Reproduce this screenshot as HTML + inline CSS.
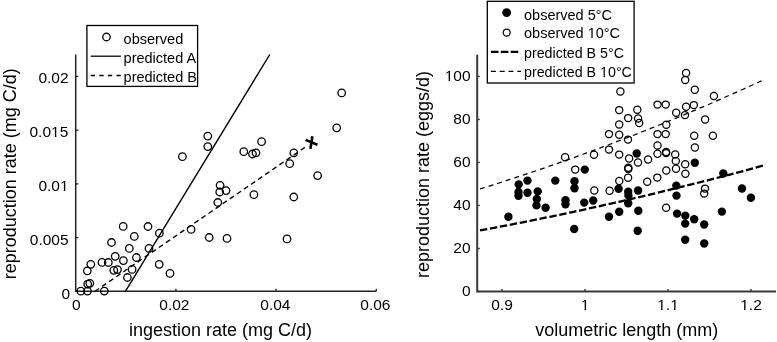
<!DOCTYPE html>
<html><head><meta charset="utf-8"><style>
html,body{margin:0;padding:0;background:#fff;}
body{width:777px;height:342px;overflow:hidden;}
svg{display:block;will-change:transform;}
text{font-family:"Liberation Sans",sans-serif;fill:#000;}
</style></head><body>
<svg width="777" height="342" viewBox="0 0 777 342">
<rect width="777" height="342" fill="#fff"/>
<g id="left">
<path d="M75.7,54.5 V291.3 H376.3" fill="none" stroke="#222" stroke-width="1.5"/>
<path d="M75.7,291.3 h2.6" stroke="#222" stroke-width="1.3"/>
<path d="M75.7,237.6 h2.6" stroke="#222" stroke-width="1.3"/>
<path d="M75.7,183.9 h2.6" stroke="#222" stroke-width="1.3"/>
<path d="M75.7,130.2 h2.6" stroke="#222" stroke-width="1.3"/>
<path d="M75.7,76.4 h2.6" stroke="#222" stroke-width="1.3"/>
<path d="M175.9,291.3 v-2.6" stroke="#222" stroke-width="1.3"/>
<path d="M276.1,291.3 v-2.6" stroke="#222" stroke-width="1.3"/>
<path d="M376.3,291.3 v-2.6" stroke="#222" stroke-width="1.3"/>
<g font-size="15.5" text-anchor="end">
<text x="68.6" y="83.2">0.02</text>
<text x="68.3" y="137.3">0.015</text>
<text x="68.6" y="191">0.01</text>
<text x="68.6" y="244.8">0.005</text>
<text x="70.2" y="298.6">0</text>
</g><g font-size="15.5" text-anchor="middle">
<text x="76.4" y="310.3">0</text>
<text x="174.4" y="310.3">0.02</text>
<text x="275.4" y="310.3">0.04</text>
<text x="375.4" y="310.3">0.06</text>
</g>
<text x="129" y="335.7" font-size="18">ingestion rate (mg C/d)</text>
<text transform="translate(15.8,279.3) rotate(-90)" font-size="18">reproduction rate (mg C/d)</text>
<path d="M125.4,291.3 L269.8,54.5" stroke="#000" stroke-width="1.4" fill="none"/>
<path d="M95,291.3 L307.6,145.55" stroke="#000" stroke-width="1.4" fill="none" stroke-dasharray="5 3.6"/>
<g fill="none" stroke="#000" stroke-width="1.3">
<circle cx="341.7" cy="92.9" r="3.75"/>
<circle cx="336.7" cy="127.8" r="3.75"/>
<circle cx="207.8" cy="136.1" r="3.75"/>
<circle cx="207.8" cy="146.6" r="3.75"/>
<circle cx="182.4" cy="156.7" r="3.75"/>
<circle cx="261.6" cy="141.7" r="3.75"/>
<circle cx="243.8" cy="151.7" r="3.75"/>
<circle cx="252.5" cy="154" r="3.75"/>
<circle cx="256" cy="152.8" r="3.75"/>
<circle cx="293.8" cy="152.8" r="3.75"/>
<circle cx="289.7" cy="163.7" r="3.75"/>
<circle cx="317.6" cy="175.6" r="3.75"/>
<circle cx="220.1" cy="185.3" r="3.75"/>
<circle cx="219.7" cy="192" r="3.75"/>
<circle cx="226" cy="190.6" r="3.75"/>
<circle cx="217.8" cy="202.5" r="3.75"/>
<circle cx="253.9" cy="194.7" r="3.75"/>
<circle cx="293.8" cy="197" r="3.75"/>
<circle cx="191.1" cy="229.4" r="3.75"/>
<circle cx="209.2" cy="237.5" r="3.75"/>
<circle cx="227" cy="238.4" r="3.75"/>
<circle cx="287" cy="238.9" r="3.75"/>
<circle cx="123.2" cy="226.4" r="3.75"/>
<circle cx="148" cy="226.5" r="3.75"/>
<circle cx="134.3" cy="236.4" r="3.75"/>
<circle cx="159.4" cy="233.2" r="3.75"/>
<circle cx="111.5" cy="242.5" r="3.75"/>
<circle cx="129.3" cy="248.4" r="3.75"/>
<circle cx="149" cy="248.4" r="3.75"/>
<circle cx="115.2" cy="256.3" r="3.75"/>
<circle cx="136.4" cy="257.5" r="3.75"/>
<circle cx="123.4" cy="260.6" r="3.75"/>
<circle cx="102" cy="262.4" r="3.75"/>
<circle cx="108.3" cy="262.5" r="3.75"/>
<circle cx="90.8" cy="264.3" r="3.75"/>
<circle cx="87.3" cy="270.8" r="3.75"/>
<circle cx="117.5" cy="269.6" r="3.75"/>
<circle cx="113.8" cy="270.3" r="3.75"/>
<circle cx="132.1" cy="269.4" r="3.75"/>
<circle cx="127.4" cy="277.5" r="3.75"/>
<circle cx="159.2" cy="264.3" r="3.75"/>
<circle cx="170" cy="273.4" r="3.75"/>
<circle cx="87.7" cy="284.1" r="3.75"/>
<circle cx="89.8" cy="283.3" r="3.75"/>
<circle cx="80.8" cy="291.2" r="3.75"/>
<circle cx="87.5" cy="291.1" r="3.75"/>
<circle cx="104.3" cy="291.1" r="3.75"/>
</g>
<path d="M305.6,139.9 L317.5,144.8 M312.4,136.3 L310.4,148.9" stroke="#000" stroke-width="2.6" fill="none"/>
<rect x="86.9" y="25.5" width="110.7" height="60.9" fill="#fff" stroke="#000" stroke-width="1.3"/>
<circle cx="106.5" cy="37" r="3.75" fill="none" stroke="#000" stroke-width="1.3"/>
<path d="M90.7,56.2 H120.9" stroke="#000" stroke-width="1.3"/>
<path d="M90.7,75.5 H120.9" stroke="#000" stroke-width="1.3" stroke-dasharray="4.3 4.3"/>
<g font-size="14.5">
<text x="123.6" y="44">observed</text>
<text x="123.6" y="63.1">predicted A</text>
<text x="123.6" y="82.1">predicted B</text>
</g>
</g>
<g id="right">
<path d="M477.2,54.7 V291.6 H776" fill="none" stroke="#3a3a3a" stroke-width="2"/>
<path d="M477.2,291.5 h2.6" stroke="#3a3a3a" stroke-width="1.4"/>
<path d="M477.2,248.48 h2.6" stroke="#3a3a3a" stroke-width="1.4"/>
<path d="M477.2,205.46 h2.6" stroke="#3a3a3a" stroke-width="1.4"/>
<path d="M477.2,162.44 h2.6" stroke="#3a3a3a" stroke-width="1.4"/>
<path d="M477.2,119.42 h2.6" stroke="#3a3a3a" stroke-width="1.4"/>
<path d="M477.2,76.4 h2.6" stroke="#3a3a3a" stroke-width="1.4"/>
<path d="M502,291.6 v-2.6" stroke="#3a3a3a" stroke-width="1.4"/>
<path d="M585,291.6 v-2.6" stroke="#3a3a3a" stroke-width="1.4"/>
<path d="M668,291.6 v-2.6" stroke="#3a3a3a" stroke-width="1.4"/>
<path d="M751,291.6 v-2.6" stroke="#3a3a3a" stroke-width="1.4"/>
<g font-size="15.5" text-anchor="end">
<text x="470.6" y="296.1">0</text>
<text x="470.6" y="253.08">20</text>
<text x="470.6" y="210.06">40</text>
<text x="470.6" y="167.04">60</text>
<text x="470.6" y="124.02">80</text>
<text x="470.6" y="81">100</text>
</g><g font-size="15.5" text-anchor="middle">
<text x="502" y="310.1">0.9</text>
<text x="585" y="310.1">1</text>
<text x="668" y="310.1">1.1</text>
<text x="751" y="310.1">1.2</text>
</g>
<text x="535.2" y="335.5" font-size="18">volumetric length (mm)</text>
<text transform="translate(429.1,278.1) rotate(-90)" font-size="18">reproduction rate (eggs/d)</text>
<polyline points="480.01,188.97 487.12,186.75 494.23,184.51 501.34,182.23 508.45,179.94 515.56,177.61 522.67,175.26 529.78,172.88 536.89,170.48 544,168.05 551.12,165.6 558.23,163.12 565.34,160.61 572.45,158.07 579.56,155.51 586.67,152.92 593.78,150.31 600.89,147.67 608,145 615.11,142.31 622.23,139.59 629.34,136.84 636.45,134.07 643.56,131.26 650.67,128.44 657.78,125.58 664.89,122.7 672,119.79 679.11,116.85 686.22,113.89 693.34,110.9 700.45,107.88 707.56,104.84 714.67,101.76 721.78,98.66 728.89,95.54 736,92.38 743.11,89.2 750.22,85.99 757.33,82.75 764.45,79.49" fill="none" stroke="#000" stroke-width="1.25" stroke-dasharray="5 4"/>
<polyline points="480.01,230.44 487.12,229.11 494.23,227.78 501.34,226.42 508.45,225.06 515.56,223.67 522.67,222.27 529.78,220.86 536.89,219.42 544,217.98 551.12,216.52 558.23,215.04 565.34,213.54 572.45,212.03 579.56,210.51 586.67,208.97 593.78,207.41 600.89,205.84 608,204.25 615.11,202.65 622.23,201.03 629.34,199.39 636.45,197.74 643.56,196.07 650.67,194.38 657.78,192.68 664.89,190.97 672,189.23 679.11,187.49 686.22,185.72 693.34,183.94 700.45,182.14 707.56,180.33 714.67,178.5 721.78,176.65 728.89,174.79 736,172.91 743.11,171.02 750.22,169.11 757.33,167.18 764.45,165.23" fill="none" stroke="#000" stroke-width="2.3" stroke-dasharray="7.4 2.7"/>
<g fill="#000">
<circle cx="508.4" cy="216.7" r="4.2"/>
<circle cx="518.7" cy="184.4" r="4.2"/>
<circle cx="518.5" cy="192" r="4.2"/>
<circle cx="518.5" cy="195.8" r="4.2"/>
<circle cx="527.5" cy="180.6" r="4.2"/>
<circle cx="527.5" cy="192.8" r="4.2"/>
<circle cx="537.7" cy="191.4" r="4.2"/>
<circle cx="536.8" cy="199" r="4.2"/>
<circle cx="536.5" cy="205.4" r="4.2"/>
<circle cx="545.6" cy="207.7" r="4.2"/>
<circle cx="555.3" cy="180.6" r="4.2"/>
<circle cx="574.5" cy="181.3" r="4.2"/>
<circle cx="574.5" cy="188.3" r="4.2"/>
<circle cx="584.8" cy="169.6" r="4.2"/>
<circle cx="565.5" cy="200.3" r="4.2"/>
<circle cx="565.5" cy="204.3" r="4.2"/>
<circle cx="584.2" cy="202.6" r="4.2"/>
<circle cx="593.2" cy="200.5" r="4.2"/>
<circle cx="574.2" cy="229" r="4.2"/>
<circle cx="609" cy="216.7" r="4.2"/>
<circle cx="619.2" cy="211.8" r="4.2"/>
<circle cx="637.7" cy="230.7" r="4.2"/>
<circle cx="638.3" cy="210.8" r="4.2"/>
<circle cx="618.6" cy="188.8" r="4.2"/>
<circle cx="628.2" cy="191.8" r="4.2"/>
<circle cx="628.4" cy="195.4" r="4.2"/>
<circle cx="628.2" cy="203.3" r="4.2"/>
<circle cx="638.1" cy="190.5" r="4.2"/>
<circle cx="636.7" cy="153.5" r="4.2"/>
<circle cx="676.3" cy="185.6" r="4.2"/>
<circle cx="676.5" cy="195.6" r="4.2"/>
<circle cx="677.1" cy="213.6" r="4.2"/>
<circle cx="685.3" cy="215.6" r="4.2"/>
<circle cx="685.2" cy="223.6" r="4.2"/>
<circle cx="694.2" cy="219.3" r="4.2"/>
<circle cx="704.2" cy="224.5" r="4.2"/>
<circle cx="685.2" cy="239.7" r="4.2"/>
<circle cx="704.2" cy="243.5" r="4.2"/>
<circle cx="721.9" cy="211.6" r="4.2"/>
<circle cx="723.3" cy="173.5" r="4.2"/>
<circle cx="742" cy="188.5" r="4.2"/>
<circle cx="750.9" cy="197.7" r="4.2"/>
<circle cx="694.8" cy="162.8" r="4.2"/>
</g><g fill="none" stroke="#000" stroke-width="1.25">
<circle cx="565.1" cy="157.2" r="3.6"/>
<circle cx="594" cy="154.7" r="3.6"/>
<circle cx="575.2" cy="169.6" r="3.6"/>
<circle cx="594.3" cy="190.5" r="3.6"/>
<circle cx="609" cy="134.1" r="3.6"/>
<circle cx="619.2" cy="134.7" r="3.6"/>
<circle cx="628" cy="139.6" r="3.6"/>
<circle cx="609" cy="149.6" r="3.6"/>
<circle cx="619.2" cy="154.6" r="3.6"/>
<circle cx="629.1" cy="158.5" r="3.6"/>
<circle cx="638" cy="162.5" r="3.6"/>
<circle cx="628.3" cy="167.8" r="3.6"/>
<circle cx="628.3" cy="168.9" r="3.6"/>
<circle cx="628.1" cy="177.8" r="3.6"/>
<circle cx="619.3" cy="181" r="3.6"/>
<circle cx="609.6" cy="190.8" r="3.6"/>
<circle cx="620.4" cy="91.4" r="3.6"/>
<circle cx="619.2" cy="110.1" r="3.6"/>
<circle cx="628.2" cy="118.1" r="3.6"/>
<circle cx="619.2" cy="124.5" r="3.6"/>
<circle cx="637.3" cy="109.8" r="3.6"/>
<circle cx="638.1" cy="118.5" r="3.6"/>
<circle cx="639.2" cy="123" r="3.6"/>
<circle cx="657.5" cy="104.6" r="3.6"/>
<circle cx="665.7" cy="104.6" r="3.6"/>
<circle cx="676.2" cy="112.8" r="3.6"/>
<circle cx="686.1" cy="106.7" r="3.6"/>
<circle cx="685" cy="115.1" r="3.6"/>
<circle cx="666.3" cy="124.8" r="3.6"/>
<circle cx="657.5" cy="134.1" r="3.6"/>
<circle cx="665.7" cy="134.1" r="3.6"/>
<circle cx="657.5" cy="145.5" r="3.6"/>
<circle cx="657.5" cy="153.8" r="3.6"/>
<circle cx="666.1" cy="152" r="3.6"/>
<circle cx="666.1" cy="153.1" r="3.6"/>
<circle cx="675.2" cy="154.5" r="3.6"/>
<circle cx="675.8" cy="160.9" r="3.6"/>
<circle cx="685.2" cy="164.2" r="3.6"/>
<circle cx="648.1" cy="159.5" r="3.6"/>
<circle cx="666.3" cy="170.5" r="3.6"/>
<circle cx="676" cy="168.7" r="3.6"/>
<circle cx="685.4" cy="173.7" r="3.6"/>
<circle cx="657.3" cy="177.6" r="3.6"/>
<circle cx="647.2" cy="181.8" r="3.6"/>
<circle cx="666.1" cy="207.8" r="3.6"/>
<circle cx="705" cy="188.6" r="3.6"/>
<circle cx="704.2" cy="193.6" r="3.6"/>
<circle cx="694.2" cy="135.8" r="3.6"/>
<circle cx="712.9" cy="135.8" r="3.6"/>
<circle cx="694.9" cy="147.5" r="3.6"/>
<circle cx="705.1" cy="119.5" r="3.6"/>
<circle cx="686.1" cy="72.9" r="3.6"/>
<circle cx="685.2" cy="79.9" r="3.6"/>
<circle cx="694.8" cy="89.8" r="3.6"/>
<circle cx="713.9" cy="95.9" r="3.6"/>
<circle cx="693.8" cy="105.1" r="3.6"/>
</g>
<rect x="487.3" y="1.3" width="146.8" height="81.7" fill="#fff" stroke="#000" stroke-width="1.3"/>
<circle cx="506.7" cy="12.6" r="4.4" fill="#000"/>
<circle cx="506.7" cy="32.5" r="3.5" fill="none" stroke="#000" stroke-width="1.25"/>
<path d="M490.9,51.9 H520" stroke="#000" stroke-width="2.4" stroke-dasharray="7.6 2.3"/>
<path d="M490.9,71.4 H521" stroke="#000" stroke-width="1.25" stroke-dasharray="5 3.8"/>
<g font-size="14.25">
<text x="524" y="19.5" font-size="14.5">observed 5°C</text>
<text x="524" y="38.3" font-size="14.5">observed 10°C</text>
<text x="524" y="58.3">predicted B 5°C</text>
<text x="524" y="77.3">predicted B 10°C</text>
</g>
</g>
<g id="onefix"><rect x="51.40" y="135.79" width="3.49" height="2.26" fill="#fff"/><rect x="56.38" y="135.79" width="3.37" height="2.26" fill="#fff"/><rect x="60.32" y="189.49" width="3.49" height="2.26" fill="#fff"/><rect x="65.30" y="189.49" width="3.37" height="2.26" fill="#fff"/><rect x="445.07" y="79.49" width="3.49" height="2.26" fill="#fff"/><rect x="450.05" y="79.49" width="3.37" height="2.26" fill="#fff"/><rect x="581.04" y="308.59" width="3.49" height="2.26" fill="#fff"/><rect x="586.02" y="308.59" width="3.37" height="2.26" fill="#fff"/><rect x="657.57" y="308.59" width="3.49" height="2.26" fill="#fff"/><rect x="662.55" y="308.59" width="3.37" height="2.26" fill="#fff"/><rect x="670.49" y="308.59" width="3.49" height="2.26" fill="#fff"/><rect x="675.47" y="308.59" width="3.37" height="2.26" fill="#fff"/><rect x="740.57" y="308.59" width="3.49" height="2.26" fill="#fff"/><rect x="745.55" y="308.59" width="3.37" height="2.26" fill="#fff"/><rect x="588.00" y="36.87" width="3.26" height="2.18" fill="#fff"/><rect x="592.66" y="36.87" width="3.15" height="2.18" fill="#fff"/><rect x="600.35" y="75.89" width="3.21" height="2.16" fill="#fff"/><rect x="604.93" y="75.89" width="3.10" height="2.16" fill="#fff"/></g>
</svg></body></html>
